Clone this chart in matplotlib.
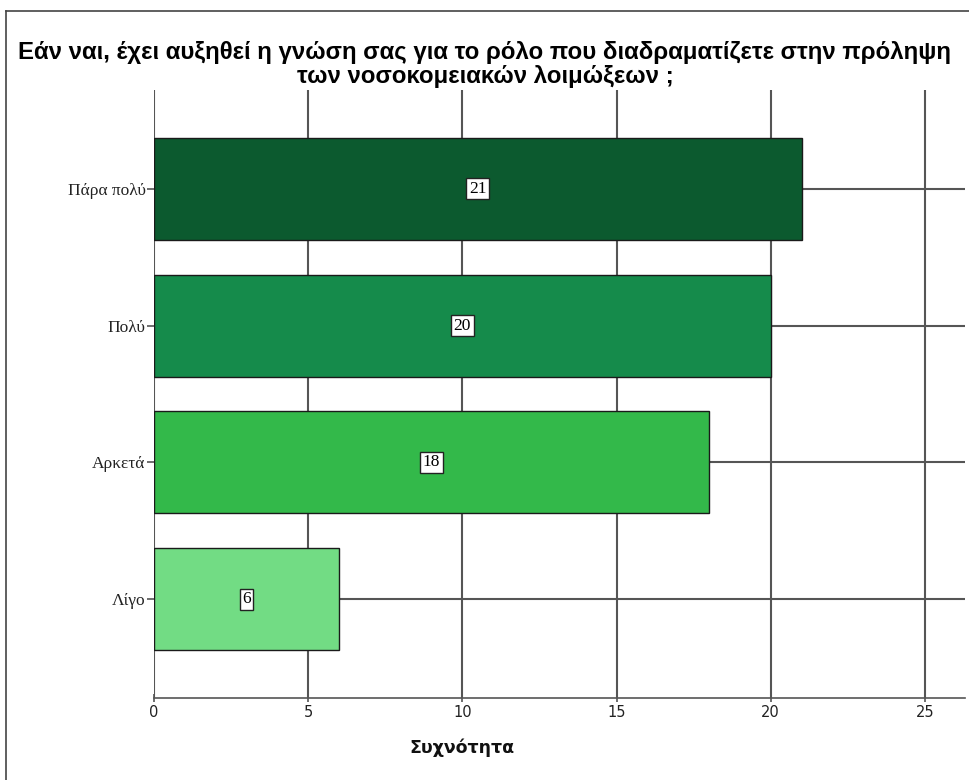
import matplotlib
matplotlib.use("Agg")
import matplotlib.pyplot as plt
from matplotlib.lines import Line2D

categories = ["Λίγο", "Αρκετά", "Πολύ", "Πάρα πολύ"]
counts = [6, 18, 20, 21]
bar_colors = ["#72dc84", "#33b94a", "#158b4b", "#0c5a2f"]
x_ticks = [0, 5, 10, 15, 20, 25]

title_lines = ["Εάν ναι, έχει αυξηθεί η γνώση σας για το ρόλο που διαδραματίζετε στην πρόληψη",
               "των νοσοκομειακών λοιμώξεων ;"]
x_label = "Συχνότητα"

W, H = 970, 780
fig = plt.figure(figsize=(W / 100, H / 100), dpi=100)

# axes box in pixel coordinates: left 154, right 965, top 90, bottom 698
ax = fig.add_axes([154 / W, 1 - 698 / H, (965 - 154) / W, (698 - 90) / H])

positions = list(range(len(categories)))
grid_color = "#555555"

# horizontal lines through each category, drawn behind bars
for p in positions:
    ax.plot([0, 26.3], [p, p], color=grid_color, lw=1.5, zorder=1, solid_capstyle="butt")
# vertical grid lines at each tick
for t in x_ticks:
    ax.plot([t, t], [-0.72, 3.72], color=grid_color, lw=1.5, zorder=1, solid_capstyle="butt")

ax.barh(positions, counts, height=0.745, color=bar_colors, edgecolor="#1a1a1a",
        linewidth=1.0, zorder=2)

for p, v in zip(positions, counts):
    ax.text(v / 2, p, str(v), ha="center", va="center", fontsize=12.5,
            family="Liberation Serif", zorder=4,
            bbox=dict(boxstyle="square,pad=0.15", fc="white", ec="#222222", lw=1.0))

ax.set_xlim(0, 26.3)
ax.set_ylim(-0.72, 3.72)
ax.set_xticks(x_ticks)
ax.set_xticklabels([str(t) for t in x_ticks], family="DejaVu Sans", fontsize=10.5,
                   color="#222222")
ax.set_yticks(positions)
ax.set_yticklabels(categories, family="Liberation Serif", fontsize=12.5, color="#222222")
ax.tick_params(axis="x", length=6, width=1.2, color=grid_color, pad=2, direction="inout")
ax.tick_params(axis="y", length=5, width=1.2, color=grid_color, pad=1)

for s in ["top", "right", "left"]:
    ax.spines[s].set_visible(False)
ax.spines["bottom"].set_color(grid_color)
ax.spines["bottom"].set_linewidth(1.2)
ax.set_facecolor("none")

for y_px, line in zip([53, 76], title_lines):
    fig.text(485 / W, 1 - y_px / H, line, ha="center", va="center", fontsize=17.3,
             fontweight="bold", family="Liberation Sans")
fig.text(462 / W, 1 - 748 / H, x_label, ha="center", va="center", fontsize=12.5,
         fontweight="bold", family="DejaVu Sans", color="#111111")

# frame edges along the top and left of the figure
fig.add_artist(Line2D([6 / W, 1], [1 - 11 / H, 1 - 11 / H], transform=fig.transFigure,
                      color="#444444", lw=1.2))
fig.add_artist(Line2D([6 / W, 6 / W], [0, 1 - 11 / H], transform=fig.transFigure,
                      color="#444444", lw=1.2))

fig.savefig("out.png", dpi=100)
